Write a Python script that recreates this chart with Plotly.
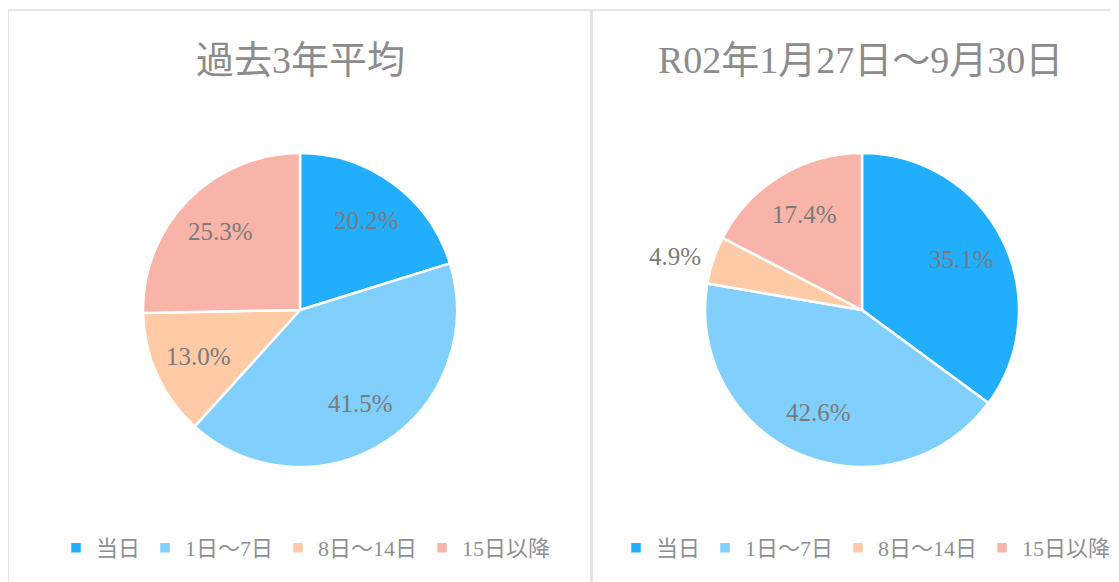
import math
import plotly.graph_objects as go

labels = ["当日", "1日～7日", "8日～14日", "15日以降"]
past3 = [20.2, 41.5, 13.0, 25.3]
r02 = [35.1, 42.6, 4.9, 17.4]
titles = ["過去3年平均", "R02年1月27日～9月30日"]
colors = ["#21AFFD", "#80CFFD", "#FFCBA6", "#F8B4A8"]

# page body has an 8px margin, so work in reference pixels shifted by 8
OFF = 8
W, H = 1119 - OFF, 582 - OFF
FONT = "Liberation Serif, DejaVu Serif, Noto Sans CJK JP"
LABEL_COLOR = "#7a7a7a"

def fx(px):
    return (px - OFF) / W

def fy(py):
    return 1 - (py - OFF) / H

# pie placement (reference pixels): centre x, centre y, radius
pies = [(300, 310, 157), (862, 310, 157)]

def dom(cx, cy, r):
    return dict(x=[fx(cx - r), fx(cx + r)], y=[fy(cy + r), fy(cy - r)])

def slice_labels(values, cx, cy, r):
    """Data labels placed along each slice's mid-angle (Excel style)."""
    total = sum(values)
    out, cum = [], 0.0
    for v in values:
        mid = (cum + v / 2) / total
        cum += v
        th = 2 * math.pi * mid
        outside = v / total < 0.08
        k = 1.07 if outside else 0.71
        dx = math.sin(th) * k * r
        dy = math.cos(th) * k * r
        anchor = "center"
        if outside:
            anchor = "right" if dx < 0 else "left"
        out.append(dict(text=f"{v:.1f}%", x=fx(cx) + dx / W, y=fy(cy) + dy / H,
                        xref="paper", yref="paper", showarrow=False,
                        xanchor=anchor, yanchor="middle",
                        font=dict(family=FONT, size=25, color=LABEL_COLOR)))
    return out

# second pie gets invisible-suffix labels so it keeps its own legend entries
labels2 = [l + "\u200b" for l in labels]

fig = go.Figure()
for vals, labs, (cx, cy, r), lg in [(past3, labels, pies[0], "legend"),
                                    (r02, labels2, pies[1], "legend2")]:
    fig.add_trace(go.Pie(
        labels=labs, values=vals, sort=False, direction="clockwise", rotation=0,
        marker=dict(colors=colors, line=dict(color="white", width=2.5)),
        textinfo="none", domain=dom(cx, cy, r), legend=lg, hoverinfo="label+percent",
    ))

annotations = slice_labels(past3, *pies[0]) + slice_labels(r02, *pies[1])
annotations += [
    dict(text=titles[0], x=fx(300), y=fy(60), xref="paper", yref="paper", showarrow=False,
         xanchor="center", yanchor="middle", font=dict(family=FONT, size=38, color="#8c8c8c")),
    dict(text=titles[1], x=fx(860), y=fy(60), xref="paper", yref="paper", showarrow=False,
         xanchor="center", yanchor="middle", font=dict(family=FONT, size=38, color="#8c8c8c")),
]

legend_common = dict(orientation="h", yanchor="middle", xanchor="center",
                     font=dict(family=FONT, size=22, color="#8f8f8f"),
                     bgcolor="rgba(0,0,0,0)", itemclick=False, itemdoubleclick=False)
fig.update_layout(
    width=W, height=H,
    margin=dict(l=0, r=0, t=0, b=0),
    paper_bgcolor="white", plot_bgcolor="white",
    legend=dict(x=fx(306), y=fy(548), **legend_common),
    legend2=dict(x=fx(866), y=fy(548), **legend_common),
    shapes=[
        dict(type="rect", xref="paper", yref="paper", x0=fx(8), x1=fx(591), y0=-0.05, y1=fy(10),
             line=dict(color="#dedede", width=1.5)),
        dict(type="rect", xref="paper", yref="paper", x0=fx(592), x1=1.05, y0=-0.05, y1=fy(10),
             line=dict(color="#dedede", width=1.5)),
    ],
    annotations=annotations,
)
fig.write_html("out.html")
